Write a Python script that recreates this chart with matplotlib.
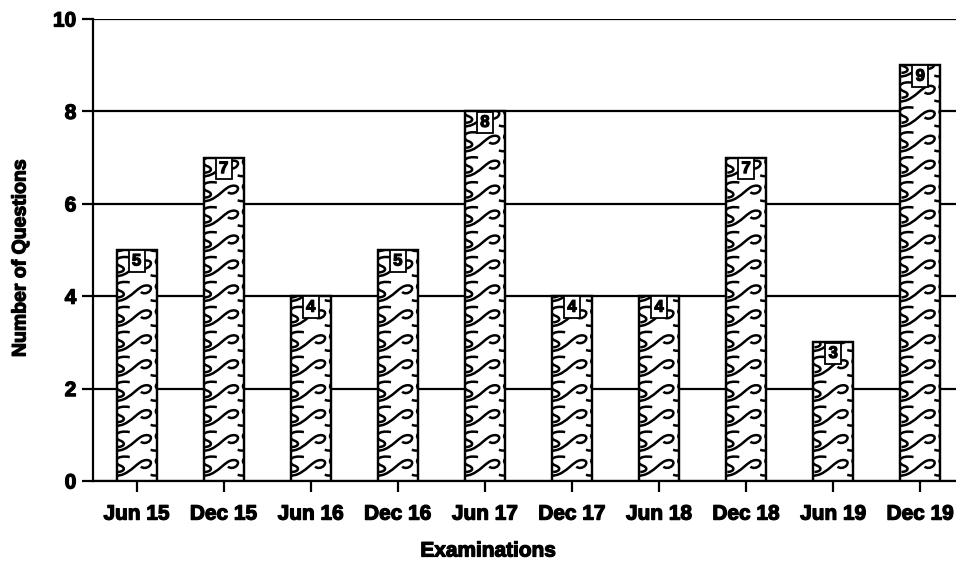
import numpy as np
import matplotlib
matplotlib.use('Agg')
import matplotlib.pyplot as plt
import matplotlib.patheffects as pe
from matplotlib.path import Path
from matplotlib.patches import PathPatch

plt.rcParams['font.family'] = ['Liberation Sans', 'DejaVu Sans']
plt.rcParams['font.weight'] = 'bold'

exams = ['Jun 15', 'Dec 15', 'Jun 16', 'Dec 16', 'Jun 17',
         'Dec 17', 'Jun 18', 'Dec 18', 'Jun 19', 'Dec 19']
questions = [5, 7, 4, 5, 8, 4, 4, 7, 3, 9]

BAR_W = 0.46
TILE_H = 0.54
heavy = [pe.withStroke(linewidth=0.9, foreground='black')]

# one wave tile in unit coords: rising wave with a hooked crest + a C curl
tile_verts = [(0.00, 0.25), (0.35, 0.08), (0.55, 0.55), (0.75, 0.76),
              (0.90, 0.92), (1.08, 0.82), (0.98, 0.62),
              (0.92, 0.50), (0.80, 0.50), (0.76, 0.58),
              (0.48, 0.96), (0.15, 1.06), (0.02, 0.76), (0.24, 0.62),
              (0.38, 0.54), (0.36, 0.38), (0.18, 0.36)]
tile_codes = [Path.MOVETO, Path.CURVE4, Path.CURVE4, Path.CURVE4,
              Path.CURVE4, Path.CURVE4, Path.CURVE4,
              Path.CURVE4, Path.CURVE4, Path.CURVE4,
              Path.MOVETO, Path.CURVE4, Path.CURVE4, Path.CURVE4,
              Path.CURVE4, Path.CURVE4, Path.CURVE4]


def wave_path(x0, h):
    verts, codes = [], []
    rows = int(np.ceil(h / TILE_H)) + 1
    for j in range(-1, rows):
        for k in (-1, 0, 1):
            for (u, v), c in zip(tile_verts, tile_codes):
                verts.append((x0 + (u + k - 0.15) * BAR_W, (v + j) * TILE_H))
                codes.append(c)
    return Path(verts, codes)


fig = plt.figure(figsize=(9.56, 5.61), dpi=100)
ax = fig.add_axes([0.0973, 0.1426, 0.9027, 0.8235])

x = np.arange(len(exams))
bars = ax.bar(x, questions, width=BAR_W, color='white', edgecolor='black',
              linewidth=1.6, zorder=3)

for b, xi, q in zip(bars, x, questions):
    wp = PathPatch(wave_path(xi - BAR_W / 2, q), facecolor='none',
                   edgecolor='black', linewidth=1.8, zorder=3.5)
    ax.add_patch(wp)
    wp.set_clip_path(b)
    # outline again on top of the waves
    ax.bar(xi, q, width=BAR_W, color='none', edgecolor='black',
           linewidth=1.6, zorder=4)
    ax.annotate(str(q), (xi, q), xytext=(0, -2.5), textcoords='offset points',
                ha='center', va='top', fontsize=12, fontweight='bold', zorder=5,
                path_effects=heavy,
                bbox=dict(boxstyle='square,pad=0.2', fc='white', ec='black', lw=1.3))

ax.set_xlim(-0.5, 9.41)
ax.set_ylim(0, 10)
ax.set_yticks([0, 2, 4, 6, 8, 10])
ax.set_xticks(x)
ax.set_xticklabels(exams)
ax.yaxis.grid(True, color='black', linewidth=1.6, zorder=0)
ax.set_axisbelow(True)

for s in ['top', 'right']:
    ax.spines[s].set_visible(False)
for s in ['left', 'bottom']:
    ax.spines[s].set_linewidth(1.6)

ax.tick_params(axis='both', length=8, width=1.6, labelsize=15, pad=4)
ax.tick_params(axis='x', pad=9)
for t in ax.get_xticklabels() + ax.get_yticklabels():
    t.set_path_effects(heavy)

ax.set_xlabel('Examinations', fontsize=15, fontweight='bold', path_effects=heavy)
ax.xaxis.set_label_coords(0.458, -0.1515)
ax.xaxis.label.set_va('center')
ax.set_ylabel('Number of Questions', fontsize=14, fontweight='bold', path_effects=heavy)
ax.yaxis.set_label_coords(-0.0835, 0.483)
ax.yaxis.label.set_va('center')

fig.savefig('out.png', dpi=100)
